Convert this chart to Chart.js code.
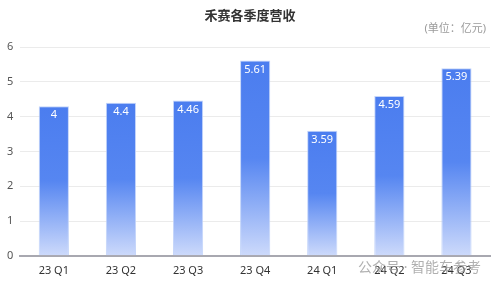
<!DOCTYPE html>
<html>
<head>
<meta charset="utf-8">
<script src="https://cdn.jsdelivr.net/npm/chart.js@4.4.1/dist/chart.umd.min.js"></script>
<style>
  html, body { margin: 0; padding: 0; background: #fff; }
  #wrap { width: 500px; height: 287px; position: relative; }
</style>
</head>
<body>
<div id="wrap"><canvas id="revChart"></canvas></div>
<script>
const quarters = ['23 Q1', '23 Q2', '23 Q3', '23 Q4', '24 Q1', '24 Q2', '24 Q3'];
const revenue = [4.3, 4.4, 4.46, 5.61, 3.59, 4.59, 5.39];
const valueLabels = ['4', '4.4', '4.46', '5.61', '3.59', '4.59', '5.39'];
const yTicks = [0, 1, 2, 3, 4, 5, 6];
const titleText = '禾赛各季度营收';
const unitText = '(单位：亿元)';
const watermarkText = '公众号 · 智能车参考';

const FONT = '"Noto Sans", "Noto Sans CJK SC", sans-serif';

// gradient per bar, from its own top down to the axis
function barGradient(ctx) {
  const chart = ctx.chart;
  const area = chart.chartArea;
  if (!area || ctx.dataIndex === undefined) return '#5585f2';
  const yScale = chart.scales.y;
  const top = yScale.getPixelForValue(revenue[ctx.dataIndex]);
  const base = yScale.getPixelForValue(0);
  const g = chart.ctx.createLinearGradient(0, top, 0, base);
  g.addColorStop(0, '#4b7def');
  g.addColorStop(0.5, '#5686f1');
  g.addColorStop(1, '#cddafb');
  return g;
}

// title, unit, value labels and watermark
const extras = {
  id: 'extras',
  afterDatasetsDraw(chart) {
    const c = chart.ctx;
    const meta = chart.getDatasetMeta(0);
    c.save();
    c.fillStyle = '#ffffff';
    c.font = '11px ' + FONT;
    c.textAlign = 'center';
    c.textBaseline = 'middle';
    meta.data.forEach((bar, i) => {
      c.fillText(valueLabels[i], bar.x, bar.y + 9);
    });
    c.restore();
  },
  afterDraw(chart) {
    const c = chart.ctx;
    c.save();
    c.fillStyle = '#333333';
    c.font = 'bold 13px ' + FONT;
    c.textAlign = 'center';
    c.textBaseline = 'middle';
    c.fillText(titleText, 250, 16);
    c.fillStyle = '#9a9a9a';
    c.font = '11px ' + FONT;
    c.textAlign = 'right';
    c.fillText(unitText, 486, 29);
    c.fillStyle = 'rgba(150,150,150,0.75)';
    c.font = '14px ' + FONT;
    c.textAlign = 'left';
    c.fillText(watermarkText, 358, 268);
    c.restore();
  }
};

new Chart(document.getElementById('revChart'), {
  type: 'bar',
  data: {
    labels: quarters,
    datasets: [{
      data: revenue,
      backgroundColor: barGradient,
      borderColor: 'rgba(190,208,250,0.9)',
      borderWidth: 1,
      borderSkipped: 'bottom',
      categoryPercentage: 1,
      barPercentage: 0.45
    }]
  },
  plugins: [extras],
  options: {
    responsive: true,
    maintainAspectRatio: false,
    animation: false,
    layout: { padding: { top: 47, right: 10, left: 0, bottom: 10 } },
    plugins: {
      legend: { display: false },
      tooltip: { enabled: false }
    },
    scales: {
      x: {
        grid: { display: false },
        border: { color: '#a8a8b0', width: 2 },
        ticks: { color: '#333', font: { family: FONT, size: 11 }, padding: 0 }
      },
      y: {
        min: 0,
        max: 6,
        afterBuildTicks: axis => { axis.ticks = yTicks.map(v => ({ value: v })); },
        grid: { color: '#ebebeb', drawTicks: false },
        border: { display: false },
        ticks: { color: '#555', font: { family: FONT, size: 11 }, padding: 7 }
      }
    }
  }
});
</script>
</body>
</html>
